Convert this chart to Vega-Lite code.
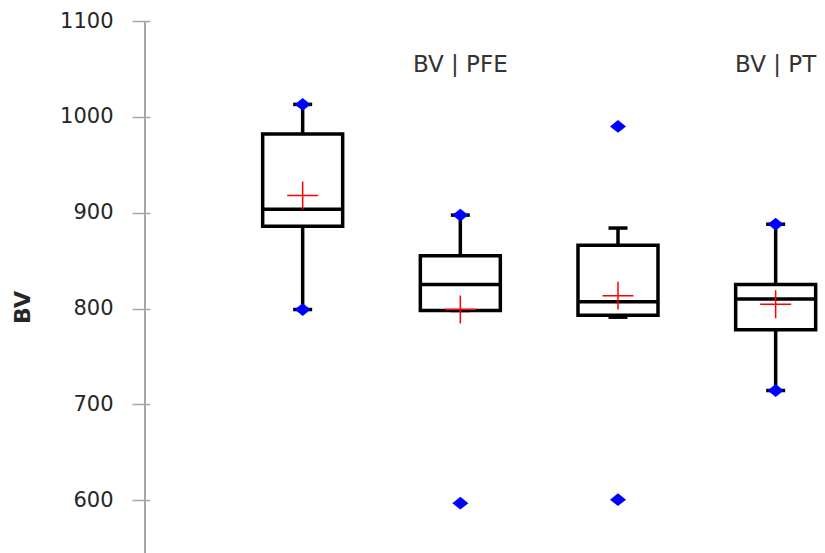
{
  "$schema": "https://vega.github.io/schema/vega-lite/v6.json",
  "width": 685,
  "height": 532,
  "autosize": "none",
  "padding": {"left": 140, "top": 21, "right": 0, "bottom": 0},
  "background": "white",
  "config": {
    "view": {"stroke": null},
    "font": "DejaVu Sans",
    "axisY": {
      "domain": false,
      "grid": false,
      "tickColor": "#a6a6a6",
      "tickWidth": 1.5,
      "tickSize": 18,
      "offset": -10,
      "labelPadding": 19,
      "labelFont": "DejaVu Sans",
      "labelFontSize": 21,
      "labelColor": "#262626",
      "titleFont": "DejaVu Sans",
      "titleFontWeight": "bold",
      "titleFontSize": 22,
      "titleColor": "#262626",
      "titlePadding": 25,
      "titleY": 286
    }
  },
  "datasets": {
    "stats": [
      {"g": 1, "q1": 886, "med": 903.5, "q3": 982, "lo": 799, "hi": 1013, "mean": 918},
      {"g": 2, "q1": 798, "med": 825, "q3": 855, "lo": 798, "hi": 897.5, "mean": 799},
      {"g": 3, "q1": 793, "med": 807, "q3": 866, "lo": 791, "hi": 884, "mean": 813.5},
      {"g": 4, "q1": 778, "med": 810, "q3": 825, "lo": 714.5, "hi": 888, "mean": 804.5}
    ],
    "pts": [
      {"g": 1, "v": 1013},
      {"g": 1, "v": 799},
      {"g": 2, "v": 897.5},
      {"g": 2, "v": 597},
      {"g": 3, "v": 990},
      {"g": 3, "v": 600.6},
      {"g": 4, "v": 888},
      {"g": 4, "v": 714.5}
    ],
    "labels": [
      {"g": 2, "label": "BV | PFE"},
      {"g": 4, "label": "BV | PT"}
    ]
  },
  "layer": [
    {
      "data": {"name": "stats"},
      "mark": {"type": "rule", "color": "#a6a6a6", "strokeWidth": 1.5},
      "encoding": {
        "x": {"datum": 0, "type": "quantitative", "scale": {"domain": [0, 4.28125], "nice": false, "zero": false}, "axis": null}
      }
    },
    {
      "data": {"name": "stats"},
      "mark": {"type": "rule", "color": "black", "strokeWidth": 3.5},
      "encoding": {
        "x": {"field": "g", "type": "quantitative", "scale": {"domain": [0, 4.28125], "nice": false, "zero": false}, "axis": null},
        "y": {"field": "lo", "type": "quantitative", "scale": {"domain": [545, 1100], "nice": false, "zero": false}, "title": "BV", "axis": {"values": [600, 700, 800, 900, 1000, 1100], "format": "d"}},
        "y2": {"field": "hi"}
      }
    },
    {
      "data": {"name": "stats"},
      "mark": {"type": "tick", "orient": "horizontal", "color": "black", "size": 19, "thickness": 3.5, "opacity": 1},
      "encoding": {
        "x": {"field": "g", "type": "quantitative", "scale": {"domain": [0, 4.28125], "nice": false, "zero": false}, "axis": null},
        "y": {"field": "lo", "type": "quantitative", "scale": {"domain": [545, 1100], "nice": false, "zero": false}, "title": "BV", "axis": {"values": [600, 700, 800, 900, 1000, 1100], "format": "d"}}
      }
    },
    {
      "data": {"name": "stats"},
      "mark": {"type": "tick", "orient": "horizontal", "color": "black", "size": 19, "thickness": 3.5, "opacity": 1},
      "encoding": {
        "x": {"field": "g", "type": "quantitative", "scale": {"domain": [0, 4.28125], "nice": false, "zero": false}, "axis": null},
        "y": {"field": "hi", "type": "quantitative", "scale": {"domain": [545, 1100], "nice": false, "zero": false}, "title": "BV", "axis": {"values": [600, 700, 800, 900, 1000, 1100], "format": "d"}}
      }
    },
    {
      "data": {"name": "stats"},
      "mark": {"type": "bar", "fill": "white", "stroke": "black", "strokeWidth": 3.5, "size": 80, "strokeJoin": "miter"},
      "encoding": {
        "x": {"field": "g", "type": "quantitative", "scale": {"domain": [0, 4.28125], "nice": false, "zero": false}, "axis": null},
        "y": {"field": "q1", "type": "quantitative", "scale": {"domain": [545, 1100], "nice": false, "zero": false}, "title": "BV", "axis": {"values": [600, 700, 800, 900, 1000, 1100], "format": "d"}},
        "y2": {"field": "q3"}
      }
    },
    {
      "data": {"name": "stats"},
      "mark": {"type": "tick", "orient": "horizontal", "color": "black", "size": 80, "thickness": 3.5, "opacity": 1},
      "encoding": {
        "x": {"field": "g", "type": "quantitative", "scale": {"domain": [0, 4.28125], "nice": false, "zero": false}, "axis": null},
        "y": {"field": "med", "type": "quantitative", "scale": {"domain": [545, 1100], "nice": false, "zero": false}, "title": "BV", "axis": {"values": [600, 700, 800, 900, 1000, 1100], "format": "d"}}
      }
    },
    {
      "data": {"name": "pts"},
      "mark": {"type": "point", "shape": "M-1,0L0,-0.8L1,0L0,0.8Z", "filled": true, "color": "#0000ff", "size": 256, "opacity": 1},
      "encoding": {
        "x": {"field": "g", "type": "quantitative", "scale": {"domain": [0, 4.28125], "nice": false, "zero": false}, "axis": null},
        "y": {"field": "v", "type": "quantitative", "scale": {"domain": [545, 1100], "nice": false, "zero": false}, "title": "BV", "axis": {"values": [600, 700, 800, 900, 1000, 1100], "format": "d"}}
      }
    },
    {
      "data": {"name": "stats"},
      "mark": {"type": "point", "shape": "M-1,0H1M0,-0.9V0.9", "filled": false, "stroke": "#ff0000", "strokeWidth": 1.5, "size": 961, "opacity": 1},
      "encoding": {
        "x": {"field": "g", "type": "quantitative", "scale": {"domain": [0, 4.28125], "nice": false, "zero": false}, "axis": null},
        "y": {"field": "mean", "type": "quantitative", "scale": {"domain": [545, 1100], "nice": false, "zero": false}, "title": "BV", "axis": {"values": [600, 700, 800, 900, 1000, 1100], "format": "d"}}
      }
    },
    {
      "data": {"name": "labels"},
      "mark": {"type": "text", "font": "DejaVu Sans", "fontSize": 23, "color": "#333333", "align": "center", "baseline": "alphabetic"},
      "encoding": {
        "x": {"field": "g", "type": "quantitative", "scale": {"domain": [0, 4.28125], "nice": false, "zero": false}, "axis": null},
        "y": {"datum": 1046.5, "type": "quantitative", "scale": {"domain": [545, 1100], "nice": false, "zero": false}, "title": "BV", "axis": {"values": [600, 700, 800, 900, 1000, 1100], "format": "d"}},
        "text": {"field": "label"}
      }
    }
  ]
}
